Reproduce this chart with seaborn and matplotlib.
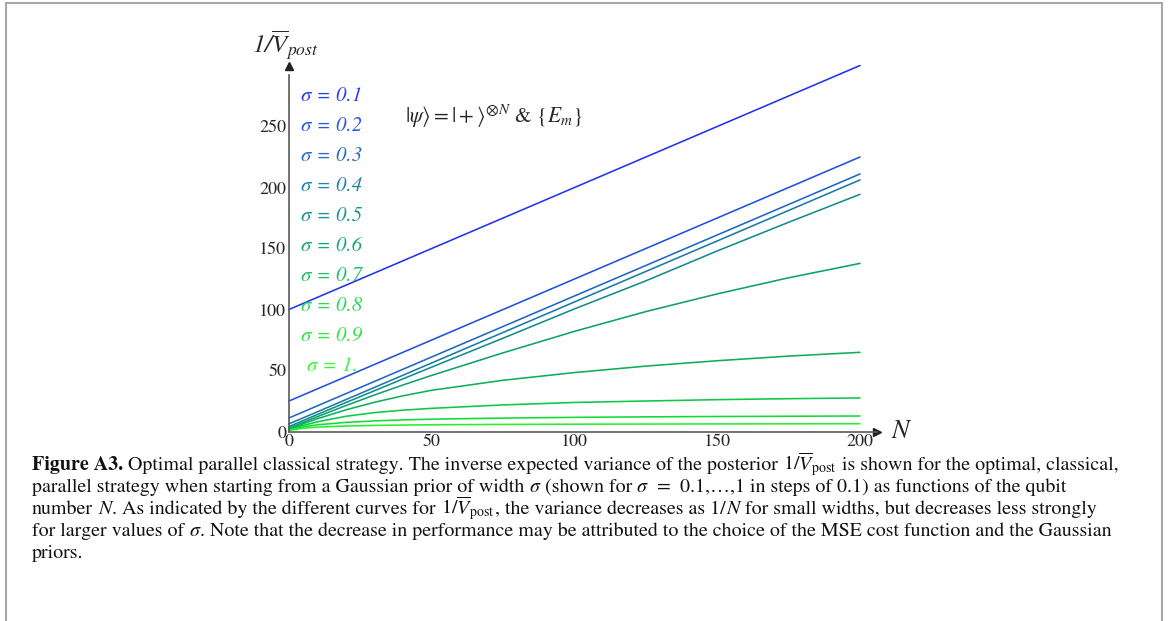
import numpy as np
import pandas as pd
import matplotlib
matplotlib.use("Agg")
import matplotlib.pyplot as plt
import seaborn as sns

# ---- data ----
N_values = [0, 5, 10, 20, 30, 40, 50, 75, 100, 125, 150, 175, 200]
sigmas = ["0.1", "0.2", "0.3", "0.4", "0.5", "0.6", "0.7", "0.8", "0.9", "1."]
inv_var = {
    "0.1": [100, 105, 110, 120, 130, 140, 150, 175, 200, 225, 250, 275, 300],
    "0.2": [25, 30, 35, 45, 55, 65, 75, 100, 125, 150, 175, 200, 225],
    "0.3": [11.1, 16.1, 21.1, 31.1, 41.1, 51.1, 61.1, 86.1, 111.1, 136.1, 161.1, 186.1, 211.1],
    "0.4": [6.3, 11.2, 16.2, 26.2, 36.2, 46.2, 56.2, 81.2, 106.2, 131.2, 156.2, 181.2, 206.2],
    "0.5": [4.0, 9.0, 14.0, 23.8, 33.5, 43.2, 52.8, 76.5, 100.5, 123.5, 148.0, 171.5, 194.4],
    "0.6": [2.8, 7.5, 12.2, 21.3, 30.0, 38.2, 46.0, 64.5, 82.1, 98.3, 112.8, 126.0, 137.8],
    "0.7": [2.0, 6.4, 10.5, 17.8, 24.0, 29.3, 33.8, 42.0, 48.3, 53.6, 58.0, 61.8, 64.9],
    "0.8": [1.6, 5.0, 8.0, 12.5, 15.5, 17.5, 19.0, 21.8, 23.8, 25.0, 26.1, 26.9, 27.5],
    "0.9": [1.2, 3.8, 5.5, 7.5, 8.7, 9.5, 10.1, 11.0, 11.6, 12.0, 12.3, 12.5, 12.7],
    "1.":  [1.0, 2.7, 3.6, 4.5, 5.0, 5.3, 5.5, 5.8, 6.0, 6.1, 6.2, 6.3, 6.4],
}
line_colors = ["#2233ee", "#2150dc", "#1f66c6", "#1a7aa8", "#148c8e",
               "#10a070", "#0cb05a", "#0cc848", "#10dc34", "#28f02a"]
label_colors = ["#2a3ef0", "#2a58e0", "#2a6ccc", "#1f84a8", "#1a9490",
                "#18a878", "#20c068", "#28d858", "#30e840", "#38f838"]
x_ticks = [0, 50, 100, 150, 200]
y_ticks = [0, 50, 100, 150, 200, 250]

rows = []
for s in sigmas:
    for n, v in zip(N_values, inv_var[s]):
        rows.append({"N": n, "val": v, "sigma": s})
df = pd.DataFrame(rows)

sns.set_style("white")
plt.rcParams["font.family"] = ["STIXGeneral", "DejaVu Sans"]
plt.rcParams["mathtext.fontset"] = "stix"

W, H = 1168, 621
fig = plt.figure(figsize=(W / 100, H / 100), dpi=100)
renderer = fig.canvas.get_renderer()

# figure frame
fr = "#a8a8a8"
fig.add_artist(plt.Line2D([6 / W, 6 / W], [0, 1 - 3 / H], color=fr, lw=1.5))
fig.add_artist(plt.Line2D([6 / W, 1162 / W], [1 - 3 / H, 1 - 3 / H], color=fr, lw=1.5))
fig.add_artist(plt.Line2D([1162 / W, 1162 / W], [0, 1 - 3 / H], color=fr, lw=1.5))

px_per_N = (860 - 289) / 200.0
xmax = 206
ax = fig.add_axes([289 / W, 1 - 431.5 / H, xmax * px_per_N / W, (431.5 - 65.5) / H])

sns.lineplot(data=df, x="N", y="val", hue="sigma", hue_order=sigmas,
             palette=line_colors, linewidth=1.15, legend=False, ax=ax,
             estimator=None, sort=False)
for l in ax.lines:
    l.set_clip_on(False)

ax.set_xlim(0, xmax)
ax.set_ylim(0, 300)
ax.set_xlabel("")
ax.set_ylabel("")
for sp in ["top", "right"]:
    ax.spines[sp].set_visible(False)
for sp in ["left", "bottom"]:
    ax.spines[sp].set_color("#5a5a5a")
    ax.spines[sp].set_linewidth(1.2)
ax.spines["left"].set_bounds(0, 292)

ax.set_xticks(x_ticks)
ax.set_yticks(y_ticks)
ax.set_xticks(np.arange(0, 201, 10), minor=True)
ax.set_yticks(np.arange(0, 291, 10), minor=True)
ax.tick_params(axis="both", which="major", direction="in", length=5, width=0.9,
               color="#444444", labelsize=13, pad=2)
ax.tick_params(axis="both", which="minor", direction="in", length=2.5, width=0.7,
               color="#777777")

# arrowheads
ax.plot(1, 0, marker=">", color="#222222", ms=6, transform=ax.transAxes, clip_on=False)
ax.plot(0, 1, marker="^", color="#222222", ms=6, transform=ax.transAxes, clip_on=False)

# axis labels
fig.text(285 / W, 1 - 45 / H, r"1/$\overline{V}_{post}$", fontsize=18,
         fontstyle="italic", ha="center", va="center")
fig.text(902 / W, 1 - 432 / H, r"$N$", fontsize=19, ha="center", va="center")

# sigma labels
for i, s in enumerate(sigmas):
    xoff = 301 if s != "1." else 307
    fig.text(xoff / W, 1 - (96 + 30 * i) / H, "σ = " + s,
             fontsize=15, fontstyle="italic", color=label_colors[i],
             ha="left", va="center")

fig.text(405 / W, 1 - 116 / H,
         r"$|\psi\rangle = |+\rangle^{\otimes N}$ & $\{E_m\}$",
         fontsize=15.5, ha="left", va="center")

# ---- caption, composed of segments on common baselines ----
FS = 14.4
R = {}
B = {"fontweight": "bold"}
I = {"fontstyle": "italic"}
GAP = "GAP"
VPOST = r"$1/\overline{V}_{\rm post}$"


def text_width(s, style):
    t = fig.text(0, 0, s, fontsize=FS, **style)
    w = t.get_window_extent(renderer).width
    t.remove()
    return w


space_w = text_width("a a", R) - text_width("aa", R)

cap_lines = [
    [("Figure A3.", B), GAP, ("Optimal parallel classical strategy. The inverse expected variance of the posterior", R),
     GAP, (VPOST, R), GAP, ("is shown for the optimal, classical,", R)],
    [("parallel strategy when starting from a Gaussian prior of width", R), GAP, ("σ", I), GAP,
     ("(shown for", R), GAP, ("σ", I), GAP, GAP, ("=", R), GAP, GAP,
     ("0.1,…,1 in steps of 0.1) as functions of the qubit", R)],
    [("number", R), GAP, ("N", I), (". As indicated by the different curves for", R), GAP, (VPOST, R),
     (", the variance decreases as 1/", R), ("N", I), GAP,
     ("for small widths, but decreases less strongly", R)],
    [("for larger values of", R), GAP, ("σ", I),
     (". Note that the decrease in performance may be attributed to the choice of the MSE cost function and the Gaussian", R)],
    [("priors.", R)],
]

for li, segs in enumerate(cap_lines):
    x = 32.0
    yb = 470 + 22 * li
    for seg in segs:
        if seg == GAP:
            x += space_w * 0.9
            continue
        s, style = seg
        t = fig.text(x / W, 1 - yb / H, s, fontsize=FS, ha="left", va="baseline",
                     color="#111111", **style)
        x += t.get_window_extent(renderer).width + 0.6

fig.savefig("out.png", dpi=100)
